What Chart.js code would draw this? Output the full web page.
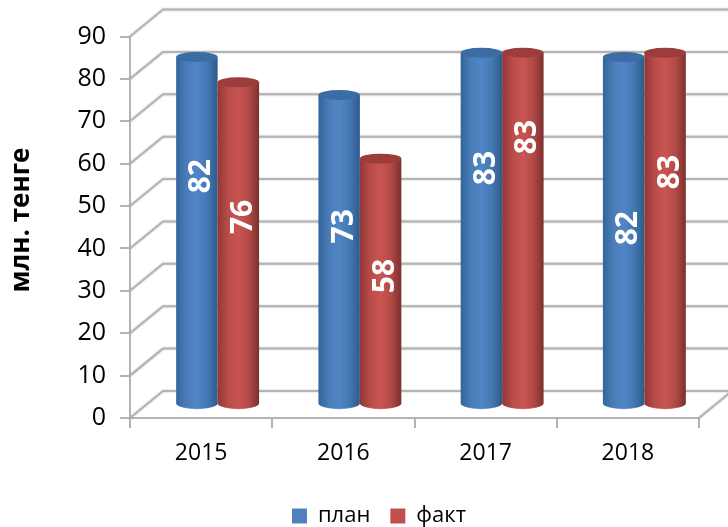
<!DOCTYPE html>
<html lang="en">
<head>
    <meta charset="UTF-8">
    <title>план / факт</title>
    <script src="https://cdn.jsdelivr.net/npm/chart.js"></script>
    <style>
        html, body { margin: 0; padding: 0; background: #fff; }
        #box { width: 728px; height: 527px; }
    </style>
</head>
<body>
    <div id="box"><canvas id="chart" width="728" height="527"></canvas></div>
    <script>
        const years = ["2015", "2016", "2017", "2018"];
        const plan = [82, 73, 83, 82];
        const fact = [76, 58, 83, 83];
        const yTicks = [0, 10, 20, 30, 40, 50, 60, 70, 80, 90];

        const FONT = '"Open Sans", sans-serif';
        const GRID = "#b4b4b4";
        // depth of the fake 3d box, bars stand half way in
        const DX = 33, DY = 27;
        // the labels in the original are not centred on the bars
        const labelShift = [[-54, -26], [-23, -5], [-60, -91], [-2, -56]];

        const looks = [
            { stops: ["#33659c", "#4a7cb8", "#5086c6", "#4478b2", "#2e5a8c"], top: "#3b6ca4", edge: "#6a9ede" },
            { stops: ["#8f3836", "#b84c49", "#c95552", "#b24a47", "#7c302e"], top: "#9c3d3b", edge: "#dc6a66" }
        ];

        function cylinder(ctx, bar, look) {
            const { x, y, base, width } = bar.getProps(["x", "y", "base", "width"], true);
            const cx = x + DX / 2, top = y - DY / 2, bottom = base - DY / 2;
            const rx = width / 2, ry = 5;
            const g = ctx.createLinearGradient(cx - rx, 0, cx + rx, 0);
            look.stops.forEach((c, i) => g.addColorStop(i / (look.stops.length - 1), c));

            ctx.fillStyle = look.edge;
            ctx.beginPath();
            ctx.ellipse(cx, bottom + 0.8, rx - 2, ry, 0, 0, Math.PI);
            ctx.fill();

            ctx.fillStyle = g;
            ctx.beginPath();
            ctx.moveTo(cx - rx, top);
            ctx.lineTo(cx - rx, bottom);
            ctx.ellipse(cx, bottom, rx, ry, 0, Math.PI, 0, true);
            ctx.lineTo(cx + rx, top);
            ctx.closePath();
            ctx.fill();

            ctx.fillStyle = look.top;
            ctx.beginPath();
            ctx.ellipse(cx, top, rx, ry, 0, 0, Math.PI * 2);
            ctx.fill();
        }

        const box3d = {
            id: "box3d",
            beforeDatasetsDraw(chart) {
                const ctx = chart.ctx, y = chart.scales.y, area = chart.chartArea;
                ctx.save();
                ctx.strokeStyle = GRID;
                ctx.lineWidth = 2;
                ctx.shadowColor = "rgba(0,0,0,0.25)";
                ctx.shadowBlur = 2;
                yTicks.forEach(v => {
                    const py = y.getPixelForValue(v);
                    ctx.beginPath();
                    ctx.moveTo(area.left, py);
                    ctx.lineTo(area.left + DX, py - DY);
                    ctx.lineTo(area.right + DX, py - DY);
                    ctx.stroke();
                });
                const py0 = y.getPixelForValue(0);
                ctx.beginPath();
                ctx.moveTo(area.right, py0);
                ctx.lineTo(area.right + DX, py0 - DY);
                ctx.stroke();
                ctx.restore();
            },
            beforeDatasetDraw() {
                return false;
            },
            afterDatasetsDraw(chart) {
                const ctx = chart.ctx;
                chart.data.datasets.forEach((ds, i) => {
                    chart.getDatasetMeta(i).data.forEach(bar => cylinder(ctx, bar, looks[i]));
                });
                ctx.save();
                ctx.fillStyle = "#fff";
                ctx.font = "bold 30px " + FONT;
                ctx.textAlign = "center";
                ctx.textBaseline = "middle";
                chart.data.datasets.forEach((ds, i) => {
                    chart.getDatasetMeta(i).data.forEach((bar, j) => {
                        const p = bar.getProps(["x", "y", "base"], true);
                        ctx.save();
                        ctx.translate(p.x + DX / 2 + 5, (p.y + p.base) / 2 - DY / 2 + labelShift[j][i]);
                        ctx.rotate(-Math.PI / 2);
                        ctx.fillText(ds.data[j], 0, 0);
                        ctx.restore();
                    });
                });
                // axis title
                ctx.fillStyle = "#000";
                ctx.font = "bold 26px " + FONT;
                ctx.translate(22, 220);
                ctx.rotate(-Math.PI / 2);
                ctx.fillText("млн. тенге", 0, 0);
                ctx.restore();
            }
        };

        new Chart(document.getElementById("chart"), {
            type: "bar",
            data: {
                labels: years,
                datasets: [
                    { label: "план", data: plan, backgroundColor: "#4f81bd" },
                    { label: "факт", data: fact, backgroundColor: "#c0504d" }
                ]
            },
            options: {
                responsive: false,
                animation: false,
                layout: { padding: { top: 36.5, right: 29, left: 59, bottom: -10 } },
                datasets: { bar: { barPercentage: 1, categoryPercentage: 0.583 } },
                scales: {
                    x: {
                        grid: { drawOnChartArea: false, tickLength: 10, color: GRID, lineWidth: 2 },
                        border: { color: GRID, width: 2 },
                        ticks: { color: "#000", font: { family: FONT, size: 23 }, padding: 12, maxRotation: 0 },
                        afterFit(scale) { scale.height = 67; }
                    },
                    y: {
                        min: 0,
                        max: 90,
                        grid: { drawOnChartArea: false, tickLength: 10, color: GRID, lineWidth: 2 },
                        border: { color: GRID, width: 2 },
                        ticks: { color: "#000", font: { family: FONT, size: 25 }, padding: 14, stepSize: 10 },
                        afterFit(scale) { scale.width = 71; }
                    }
                },
                plugins: {
                    tooltip: { enabled: false },
                    legend: {
                        position: "bottom",
                        labels: {
                            color: "#000",
                            font: { family: FONT, size: 22 },
                            boxWidth: 15,
                            boxHeight: 15,
                            padding: 20
                        }
                    }
                }
            },
            plugins: [box3d]
        });
    </script>
</body>
</html>
